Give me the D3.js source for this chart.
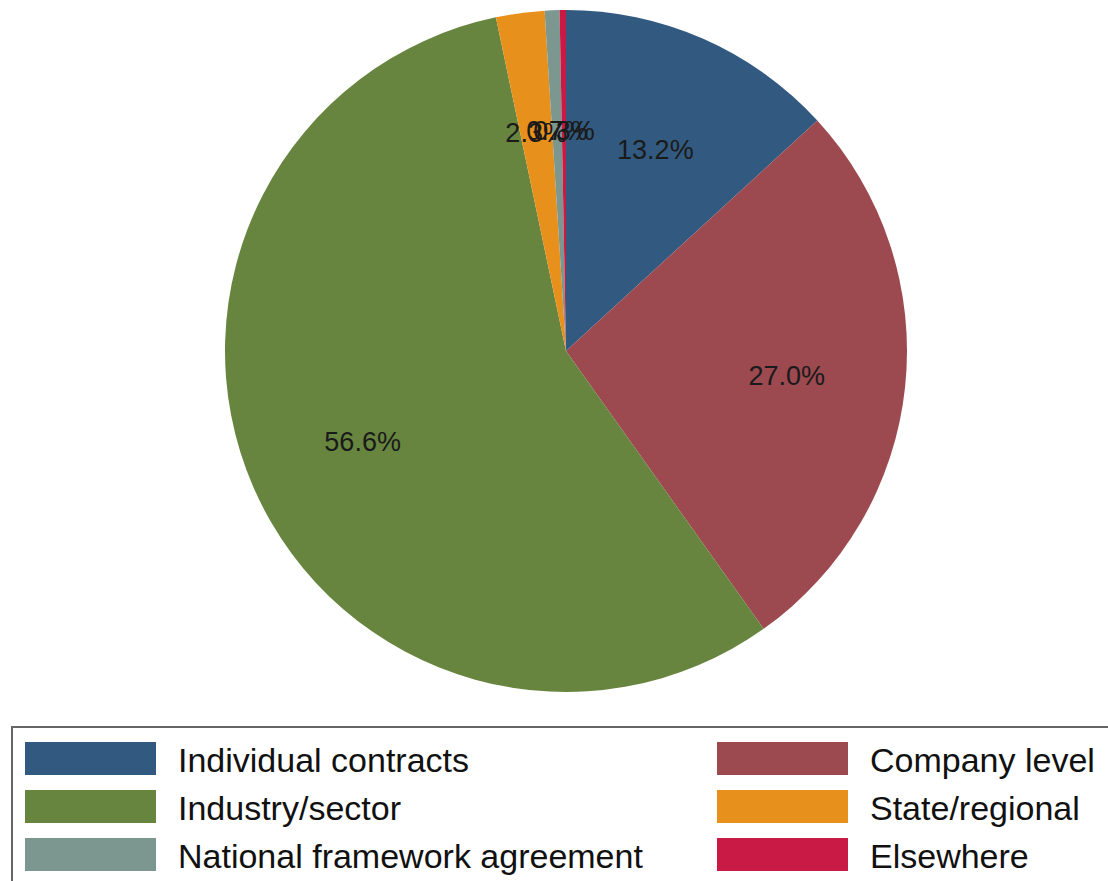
<!DOCTYPE html>
<html>
<head>
  <meta charset="utf-8">
  <title>Pie chart</title>
  <script src="https://cdn.jsdelivr.net/npm/d3@7"></script>
  <style>
    body { margin: 0; background: #fff; }
    svg { display: block; font-family: "Liberation Sans", Arial, sans-serif; }
  </style>
</head>
<body>
<svg id="chart" width="1108" height="881"></svg>
<script>
  // data, clockwise from 12 o'clock
  var categories = ['Individual contracts', 'Company level', 'Industry/sector',
                    'State/regional', 'National framework agreement', 'Elsewhere'];
  var shares = [13.2, 27.0, 56.6, 2.3, 0.7, 0.3];
  var colors = ['#325a80', '#9c4950', '#67853f', '#e8901c', '#7b978f', '#c81a45'];

  // legend is laid out row by row, two columns
  var legendOrder = ['Individual contracts', 'Company level', 'Industry/sector',
                     'State/regional', 'National framework agreement', 'Elsewhere'];

  var svg = d3.select('#chart');
  var cx = 566, cy = 351, r = 341;

  var color = d3.scaleOrdinal().domain(categories).range(colors);

  var slices = d3.pie().sort(null).value(function(d, i) { return shares[i]; })(categories);
  var arc = d3.arc().innerRadius(0).outerRadius(r);
  var labelArc = d3.arc().innerRadius(222).outerRadius(222);

  var g = svg.append('g').attr('transform', 'translate(' + cx + ',' + cy + ')');

  g.selectAll('path')
    .data(slices)
    .enter()
    .append('path')
    .attr('d', arc)
    .attr('fill', function(d) { return color(d.data); });

  g.selectAll('text')
    .data(slices)
    .enter()
    .append('text')
    .attr('transform', function(d) { return 'translate(' + labelArc.centroid(d) + ')'; })
    .attr('text-anchor', 'middle')
    .attr('dy', '0.4em')
    .attr('font-size', 27)
    .attr('fill', '#1a1a1a')
    .text(function(d) { return d3.format('.1f')(d.value) + '%'; });

  // legend box (runs off the right and bottom edge like the reference)
  svg.append('rect')
    .attr('x', 12).attr('y', 727)
    .attr('width', 1120).attr('height', 200)
    .attr('fill', 'none')
    .attr('stroke', '#666')
    .attr('stroke-width', 2);

  var colX = d3.scaleOrdinal().domain([0, 1]).range([25, 717]);
  var rowY = d3.scaleLinear().domain([0, 1]).range([742, 790]);

  var items = svg.selectAll('.item')
    .data(legendOrder)
    .enter()
    .append('g')
    .attr('class', 'item')
    .attr('transform', function(d, i) {
      return 'translate(' + colX(i % 2) + ',' + rowY(Math.floor(i / 2)) + ')';
    });

  items.append('rect')
    .attr('width', 131)
    .attr('height', 33)
    .attr('fill', function(d) { return color(d); });

  items.append('text')
    .attr('x', 153)
    .attr('y', 30)
    .attr('font-size', 34)
    .attr('fill', '#111')
    .text(function(d) { return d; });
</script>
</body>
</html>
